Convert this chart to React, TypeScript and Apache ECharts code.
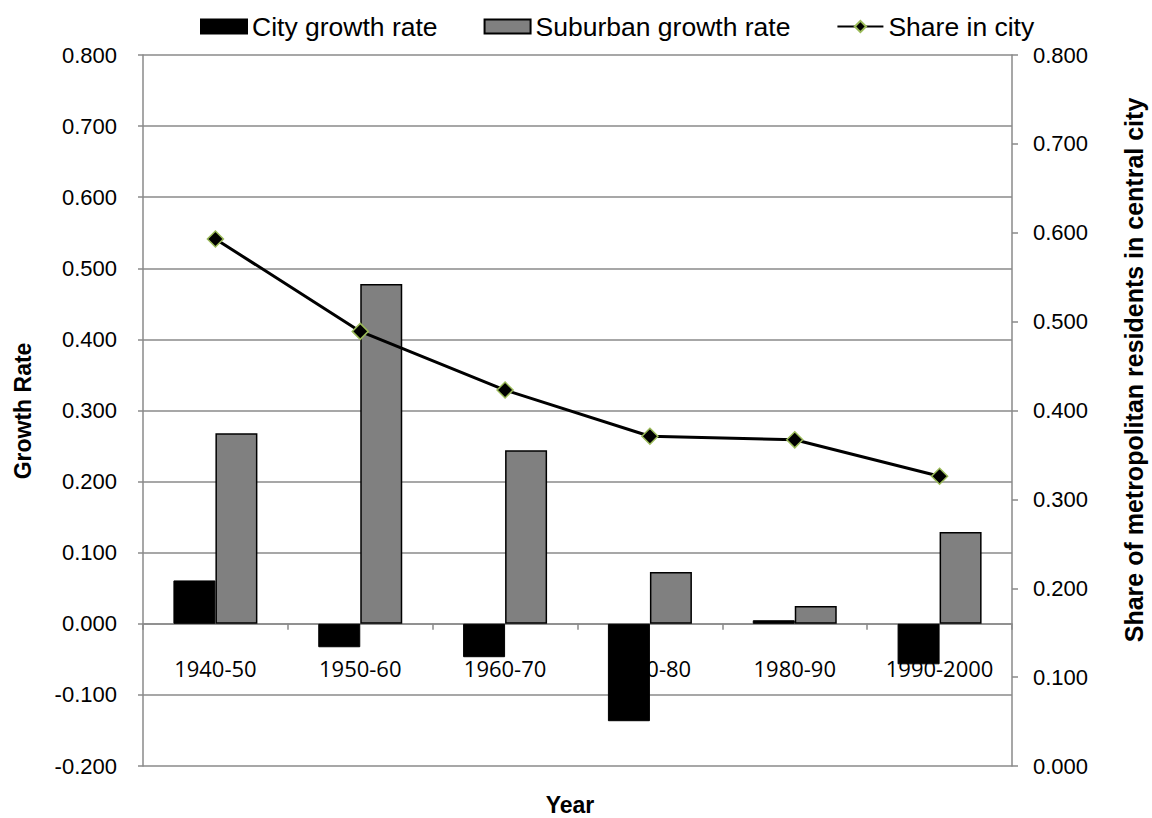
import React, { useEffect, useRef } from "react";
import * as echarts from "echarts";

const categories = ["1940-50", "1950-60", "1960-70", "1970-80", "1980-90", "1990-2000"];
const cityGrowth = [0.061, -0.033, -0.047, -0.137, 0.005, -0.057];
const suburbanGrowth = [0.268, 0.478, 0.244, 0.073, 0.025, 0.129];
const shareInCity = [0.593, 0.489, 0.423, 0.371, 0.367, 0.326];

const leftMin = -0.2;
const leftMax = 0.8;

const GRID = "#8a8a8a";
const SANS = '"Liberation Sans", Arial, sans-serif';

const W = 1152;
const H = 818;
const GRID_TOP = 55;
const GRID_BOTTOM = 52;

export default function App() {
  const ref = useRef<HTMLDivElement>(null);
  useEffect(() => {
    if (!ref.current) return;
    const chart = echarts.init(ref.current, undefined, { renderer: "svg" });
    const plotH = H - GRID_TOP - GRID_BOTTOM;
    const zeroFromBottom = (plotH * (0 - leftMin)) / (leftMax - leftMin);
    chart.setOption({
      animation: false,
      backgroundColor: "#ffffff",
      legend: {
        left: 195,
        top: 8,
        itemWidth: 46,
        itemHeight: 14,
        itemGap: 46,
        selectedMode: false,
        textStyle: { fontFamily: SANS, fontSize: 26.5, color: "#000" },
        data: [
          { name: "City growth rate", icon: "rect" },
          { name: "Suburban growth rate", icon: "rect" },
          { name: "Share in city" },
        ],
      },
      grid: { left: 143, right: 140, top: GRID_TOP, bottom: GRID_BOTTOM, containLabel: false },
      xAxis: {
        type: "category",
        data: categories,
        offset: -zeroFromBottom,
        axisLine: { show: true, onZero: false, lineStyle: { color: GRID, width: 1.5 } },
        axisTick: { show: true, length: 6, lineStyle: { color: GRID, width: 1.5 } },
        axisLabel: {
          margin: 33,
          fontFamily: '"Open Sans", "Noto Sans", sans-serif',
          fontSize: 22,
          color: "#000",
        },
        splitLine: { show: false },
        z: 0,
      },
      yAxis: [
        {
          type: "value",
          min: leftMin,
          max: leftMax,
          interval: 0.1,
          axisLine: { show: true, lineStyle: { color: GRID, width: 1.5 } },
          axisTick: { show: true, length: 5, lineStyle: { color: GRID, width: 1.5 } },
          axisLabel: {
            margin: 26,
            fontFamily: SANS,
            fontSize: 22,
            color: "#000",
            formatter: (v: number) => v.toFixed(3),
          },
          splitLine: { show: true, lineStyle: { color: GRID, width: 1.5 } },
        },
        {
          type: "value",
          min: 0,
          max: 0.8,
          interval: 0.1,
          position: "right",
          axisLine: { show: true, lineStyle: { color: GRID, width: 1.5 } },
          axisTick: { show: true, length: 6, lineStyle: { color: GRID, width: 1.5 } },
          axisLabel: {
            margin: 21,
            fontFamily: SANS,
            fontSize: 22,
            color: "#000",
            formatter: (v: number) => v.toFixed(3),
          },
          splitLine: { show: false },
        },
      ],
      series: [
        {
          name: "City growth rate",
          type: "bar",
          data: cityGrowth,
          barWidth: 42,
          barGap: "0%",
          itemStyle: { color: "#000000", borderColor: "#000000", borderWidth: 1 },
        },
        {
          name: "Suburban growth rate",
          type: "bar",
          data: suburbanGrowth,
          barWidth: 42,
          barGap: "0%",
          itemStyle: { color: "#808080", borderColor: "#000000", borderWidth: 1.5 },
        },
        {
          name: "Share in city",
          type: "line",
          yAxisIndex: 1,
          data: shareInCity,
          symbol: "diamond",
          symbolSize: 16,
          lineStyle: { color: "#000000", width: 3 },
          itemStyle: { color: "#000000", borderColor: "#9bbb59", borderWidth: 1.5 },
        },
      ],
      graphic: [
        {
          type: "text",
          x: 23,
          y: 411,
          rotation: Math.PI / 2,
          style: {
            text: "Growth Rate",
            font: 'bold 23px "Liberation Sans", Arial, sans-serif',
            fill: "#000",
            align: "center",
            verticalAlign: "middle",
          },
        },
        {
          type: "text",
          x: 1134,
          y: 370,
          rotation: Math.PI / 2,
          style: {
            text: "Share of metropolitan residents in central city",
            font: 'bold 25px "Liberation Sans", Arial, sans-serif',
            fill: "#000",
            align: "center",
            verticalAlign: "middle",
          },
        },
        {
          type: "text",
          x: 570,
          y: 805,
          style: {
            text: "Year",
            font: 'bold 23px "Liberation Sans", Arial, sans-serif',
            fill: "#000",
            align: "center",
            verticalAlign: "middle",
          },
        },
      ],
    });
    return () => chart.dispose();
  }, []);
  return (
    <div
      ref={ref}
      style={{ position: "absolute", left: 0, top: 0, width: W, height: H, background: "#fff" }}
    />
  );
}
